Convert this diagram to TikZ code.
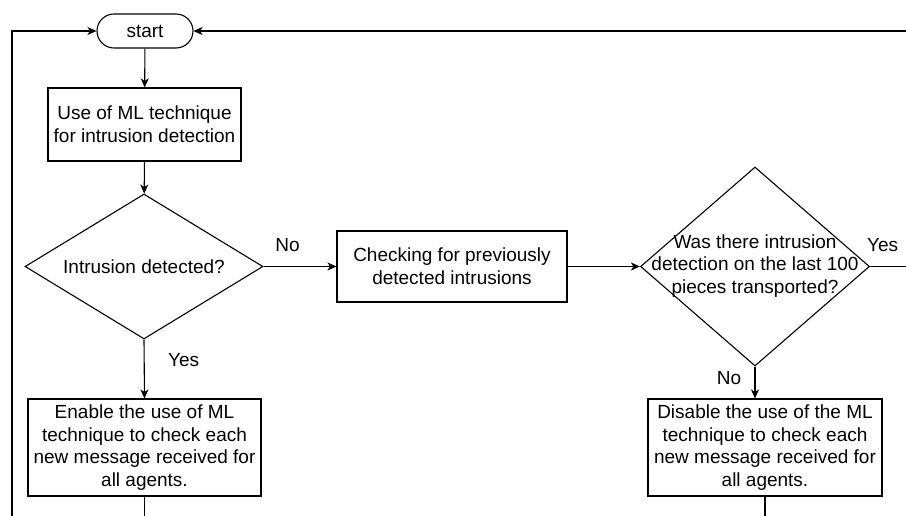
\documentclass[tikz,border=0pt]{standalone}
\usepackage{fontspec}
\setmainfont{Liberation Sans}
\usetikzlibrary{arrows.meta,shapes.geometric}
\begin{document}
\begin{tikzpicture}[x=1pt,y=-1pt,
  font=\fontsize{19}{22.8}\selectfont,
  line width=1.1pt,
  box/.style={draw, rectangle, align=center, inner sep=0pt},
  terminal/.style={draw, rectangle, rounded corners=17pt, minimum width=96pt, minimum height=34pt, inner sep=0pt},
  decision/.style={draw, diamond, inner sep=0pt},
  txt/.style={align=center, inner sep=0pt},
  flow/.style={-{Stealth[length=9pt,width=8pt,inset=2.5pt]}},
  plain/.style={-}
]
\useasboundingbox (0,0) rectangle (906,516);

% shapes
\node[terminal] (start) at (145,31) {start};
\node[box, minimum width=193pt, minimum height=73pt] (ml) at (144.5,124.5)
  {Use of ML technique\\for intrusion detection};
\node[decision, minimum width=238pt, minimum height=145pt] (d1) at (144,266.5) {};
\node[txt] (d1t) at (d1.center) {Intrusion detected?};
\node[box, minimum width=230pt, minimum height=71pt] (chk) at (452,266.5)
  {Checking for previously\\detected intrusions};
\node[decision, minimum width=229pt, minimum height=199pt] (d2) at (755,266.5) {};
\node[txt] (d2t) at (755,266) {Was there intrusion\\detection on the last 100\\pieces transported?};
\node[box, minimum width=233pt, minimum height=97pt] (en) at (144.5,447.5)
  {Enable the use of ML\\technique to check each\\new message received for\\all agents.};
\node[box, minimum width=234pt, minimum height=97pt] (dis) at (765,447.5)
  {Disable the use of the ML\\technique to check each\\new message received for\\all agents.};

% free ends at the picture border
\coordinate (loopL) at (12,516);
\coordinate (loopR) at (906,31);
\coordinate (yesR) at (906,266.5);
\coordinate (enOut) at (144.5,516);
\coordinate (disOut) at (765,516);

% connectors
\draw[flow] (d1.east) -- node[above=11pt, pos=0.33] (noA) {No} (chk.west);
\draw[flow] (start) -- (ml);
\draw[flow] (ml) -- (d1);
\draw[flow] (chk.east) -- (d2.west);
\draw[flow] (d1.south) -- node[right=20pt, pos=0.35] (yesA) {Yes} (en.north);
\draw[flow] (d2.south) -- node[left=10pt, pos=0.35] (noB) {No} (d2.south |- dis.north);
\draw[plain] (d2.east) -- node[above=11pt, pos=0.35] (yesB) {Yes} (yesR);
\draw[plain] (en.south) -- (enOut);
\draw[plain] (dis.south) -- (disOut);
\draw[flow] (loopL) |- (start.west);
\draw[flow] (loopR) -- (start.east);
\end{tikzpicture}
\end{document}
